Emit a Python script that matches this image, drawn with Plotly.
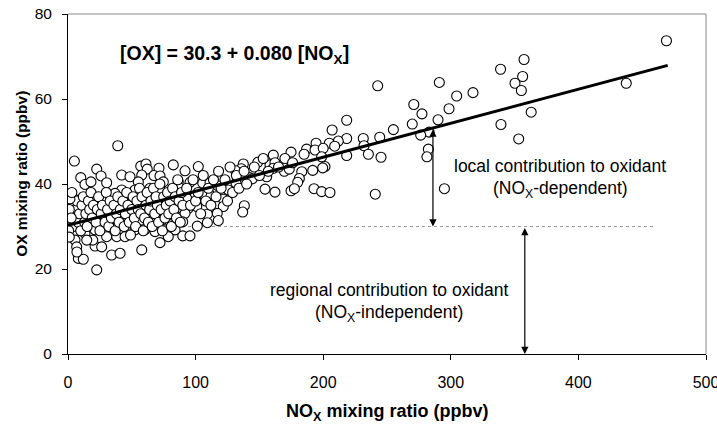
import plotly.graph_objects as go

# ---- data (NOx ppbv, OX ppbv) ----
nox = [242.7, 291, 317.4, 304.6, 339, 271, 277.4, 298.6, 290, 269.8, 255, 218.4, 207, 283, 276.4, 244.3, 231.4,
       218.4, 211.8, 204.8, 194.4, 187, 193.6, 200, 209, 232, 198.8, 218.4, 235.4, 245.3, 282.4, 281.3, 201.4,
       199.6, 191.8, 183.2, 192.8, 198.8, 205.3, 240.8, 295,
       469, 357.4, 356.3, 350.3, 355.3, 437.5, 363, 339.3, 353.2,
       160.9, 174.8, 148.7, 158.3, 162.2, 137.4, 135.8, 131.4, 144.7, 142.1, 144.4, 155.7, 160.9, 169.5, 173.4,
       181.3, 180, 154.4, 162.2, 174.8, 177.4, 102.1, 91.7, 95.6, 105.6, 111.3, 117.3, 125.6, 131.7, 110.7, 104.8,
       121.7, 121.7, 138.2, 136.9, 117, 117.8, 109.2, 109.2, 101.3, 100.9, 99.5, 93, 94.3, 91.7, 89.9, 89.9, 95.6,
       39, 5, 22.5, 10, 13.3, 18, 25.9, 30.3, 42.1, 48.6, 57, 61.1, 62.1, 71.3, 82.5, 57.8, 67.4, 72.1, 74.7, 86.4,
       55.1, 52.5, 42.1, 36.8, 46, 4.2, 21.2, 27.7, 64.3, 72.1, 79.9, 87.8, 3.7, 8.9, 14.7, 21.2, 28.2, 35, 40.8,
       50.7, 60.3, 69.5, 77.4, 85.2, 5.5, 13.3, 27.7, 35.5, 47.3, 57.8, 65.6, 73.4, 81.3, 1.6, 4.2, 13.3, 21.2,
       30.3, 38.2, 44.7, 52.5, 60.3, 68.2, 76, 83.9, 5.5, 6.8, 8.1, 12, 21.2, 26.4, 34.2, 40.8, 57.8, 72.1, 78.6,
       22.5, 5.5, 9.4, 19.4, 14.7, 7,
       2, 3, 2, 4, 6, 7, 8, 9, 10, 11, 12, 13, 14, 15, 16, 17, 18, 19, 20, 22, 23, 24, 25, 26, 27, 29, 30, 31, 32,
       33, 34, 36, 37, 38, 39, 40, 41, 43, 44, 45, 46, 47, 48, 49, 50, 51, 52, 53, 54, 55, 56, 57, 58, 59, 60, 61,
       62, 63, 64, 65, 66, 67, 68, 69, 70, 71, 72, 73, 74, 75, 76, 77, 78, 79, 80, 81, 82, 83, 84, 85, 86, 87, 88,
       89, 90,
       93, 96, 98, 100, 102, 104, 106, 108, 110, 112, 114, 116, 118, 120, 123, 125, 127, 129, 132, 134, 138, 140,
       146, 150, 153, 157, 165, 170, 176, 185,
       0.5, 1, 1.5, 2.5, 3, 1]
ox = [63.1, 63.9, 61.5, 60.7, 67, 58.7, 56.5, 57.7, 55.1, 54.1, 52.8, 55, 52.7, 52.2, 51.5, 51, 50.7,
      50.7, 50.1, 49.6, 49.6, 48.2, 48, 48.4, 48.9, 49, 46.4, 46.7, 47, 46.3, 48.2, 46.4, 44.1,
      43.8, 43.2, 42.9, 38.9, 38.2, 38, 37.6, 38.9,
      73.7, 69.3, 65.3, 63.7, 62, 63.7, 56.9, 54, 50.6,
      46.8, 47.5, 45.1, 44.5, 45, 44.7, 43.6, 43.1, 42.9, 41.5, 41.2, 41.7, 43.7, 43, 43.5,
      41.3, 40.4, 38.8, 38.1, 38.4, 38.9, 44.1, 43.1, 40.4, 40.2, 40.3, 39.6, 38.6, 40.2, 37.6, 37.8,
      36.4, 34.7, 34.9, 33.4, 33.1, 31.4, 32.9, 30.9, 30.1, 34.7, 37, 36.6, 34.3, 33.1, 31.1, 27.8, 27.8,
      49, 45.4, 43.5, 41.5, 39.9, 40.5, 41.9, 40.3, 42.1, 41.7, 44.2, 44.7, 43.5, 43.7, 44.5, 42.1, 42, 41.9, 40.5, 40.5,
      40.5, 38.6, 38.6, 37.8, 37.4, 36.6, 37, 36.2, 39, 38.6, 37.8, 39, 35.1, 34.7, 35.1, 33.5, 33.9, 34.3, 35.1,
      35.1, 35.5, 35.1, 34.7, 34.3, 32.3, 32.7, 31.5, 31.9, 32.7, 31.5, 32.3, 31.5, 32.7, 29.2, 28, 28.4, 29.2,
      27.6, 27.6, 27.6, 29.2, 29.3, 28.8, 29.2, 29.2, 26.8, 25.2, 22.5, 22.3, 25.4, 25.2, 23.3, 23.7, 24.5, 26.2, 27.6,
      19.8, 30.7, 30, 26.8, 26.8, 24,
      33, 31, 36, 30, 34, 36, 31, 33, 29, 35, 37, 31, 33, 30, 36, 34, 38, 32, 35, 31, 34, 37, 29, 33, 35, 31, 38, 34, 30,
      36, 32, 35, 29, 33, 37, 31, 34, 36, 30, 33, 38, 35, 31, 28, 34, 37, 32, 30, 36, 34, 39, 33, 37, 29, 32, 35,
      38, 31, 34, 36, 30, 39, 33, 37, 35, 31, 40, 34, 29, 37, 32, 35, 38, 33, 36, 30, 39, 34, 37, 32, 41, 36, 31,
      38, 35,
      39, 35, 41, 36, 38, 33, 42, 36, 39, 35, 41, 37, 43, 39, 41, 36, 44, 38, 42, 39, 43, 40,
      44, 42, 46, 43, 44, 46, 45, 47,
      29, 34, 36.5, 32, 38, 27.5]

fit_intercept = 30.3
fit_slope = 0.080
fit_x = [0, 470]
fit_y = [fit_intercept + fit_slope * v for v in fit_x]

regional_level = 30
dash_x = [0, 460]
local_arrow_x = 286
regional_arrow_x = 358

FONT = "Arial, Liberation Sans, sans-serif"

fig = go.Figure()
fig.add_trace(go.Scatter(x=dash_x, y=[regional_level] * 2, mode="lines",
                         line=dict(color="#999999", width=1, dash="dot"), hoverinfo="skip"))
fig.add_trace(go.Scatter(x=nox, y=ox, mode="markers",
                         marker=dict(symbol="circle", size=10, color="white",
                                     line=dict(color="black", width=1.1))))
fig.add_trace(go.Scatter(x=fit_x, y=fit_y, mode="lines", line=dict(color="black", width=3)))

ann = []
ann.append(dict(x=39, y=70.4, xref="x", yref="y", xanchor="left", yanchor="middle", showarrow=False,
                text="<b>[OX] = 30.3 + 0.080 [NO<sub>X</sub>]</b>", font=dict(size=19.5, color="black")))
ann.append(dict(x=385.6, y=44.2, xref="x", yref="y", showarrow=False,
                text="local contribution to oxidant", font=dict(size=17.5, color="black")))
ann.append(dict(x=385.6, y=38.6, xref="x", yref="y", showarrow=False,
                text="(NO<sub>X</sub>-dependent)", font=dict(size=17.5, color="black")))
ann.append(dict(x=251.5, y=15, xref="x", yref="y", showarrow=False,
                text="regional contribution to oxidant", font=dict(size=17.5, color="black")))
ann.append(dict(x=251.5, y=9.5, xref="x", yref="y", showarrow=False,
                text="(NO<sub>X</sub>-independent)", font=dict(size=17.5, color="black")))
# double-headed arrows
la_top = fit_intercept + fit_slope * local_arrow_x
for xa, y0, y1 in [(local_arrow_x, regional_level, la_top), (regional_arrow_x, 0, regional_level)]:
    ann.append(dict(x=xa, y=y0, ax=xa, ay=y1, xref="x", yref="y", axref="x", ayref="y",
                    text="", showarrow=True, arrowhead=2, startarrowhead=2, arrowside="end+start",
                    arrowsize=1.2, startarrowsize=1.2, arrowwidth=1.2, arrowcolor="black",
                    standoff=0, startstandoff=0))
ann.append(dict(x=0.5, y=-0.171, xref="paper", yref="paper", showarrow=False,
                xanchor="center", yanchor="middle",
                text="<b>NO<sub>X</sub> mixing ratio (ppbv)</b>", font=dict(size=18, color="black")))
ann.append(dict(x=-0.072, y=0.53, xref="paper", yref="paper", showarrow=False, textangle=-90,
                xanchor="center", yanchor="middle",
                text="<b>OX mixing ratio (ppbv)</b>", font=dict(size=15.5, color="black")))

axis_common = dict(showgrid=False, zeroline=False, showline=True, linecolor="black", linewidth=1,
                   ticks="outside", ticklen=5, tickcolor="black", tickwidth=1, automargin=False)

fig.update_layout(
    width=717, height=430, margin=dict(l=68, r=11, t=14, b=76),
    paper_bgcolor="white", plot_bgcolor="white", showlegend=False,
    font=dict(family=FONT, color="black"),
    xaxis=dict(range=[0, 500], tickvals=[0, 100, 200, 300, 400, 500], ticklabelstandoff=9,
               ticklabeloverflow="allow", tickfont=dict(size=16, color="black"), **axis_common),
    yaxis=dict(range=[0, 80], tickvals=[0, 20, 40, 60, 80], ticklabelstandoff=7,
               tickfont=dict(size=15.5, color="black"), **axis_common),
    annotations=ann,
    shapes=[dict(type="path", xref="paper", yref="paper", path="M 0 1 L 1 1 L 1 0",
                 line=dict(color="#888888", width=1))],
)

fig.write_html("out.html")
